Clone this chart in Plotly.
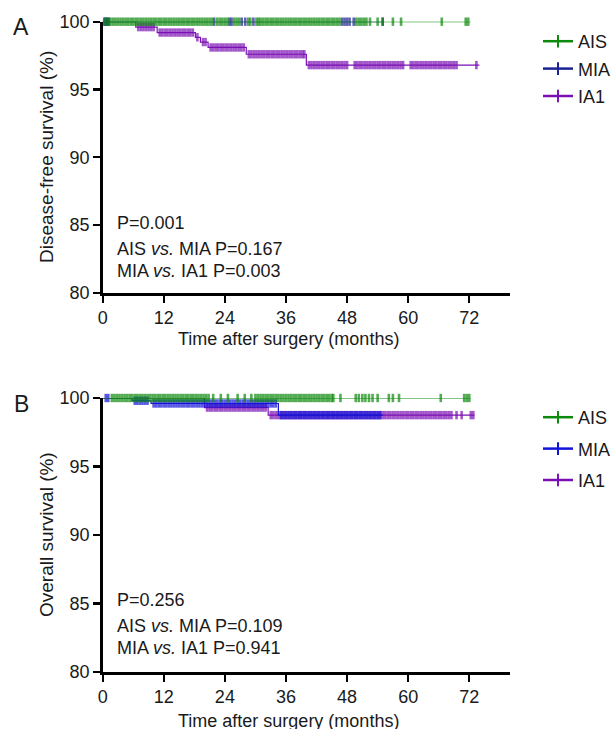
import plotly.graph_objects as go

# ---------------- Panel A: disease-free survival ----------------
dfs_ais_t = [0]
dfs_ais_s = [100]
dfs_ais_end = 72.3
dfs_ais_censor = [0.5, 1, 1.5, 2, 2.5, 3, 3.5, 4, 4.5, 5, 5.5, 6, 6.5, 7, 7.5, 8, 8.5, 9, 9.5, 10,
                  10.5, 11, 11.5, 12, 12.5, 13, 13.5, 14, 14.5, 15, 15.5, 16, 16.5, 17, 17.5, 18,
                  18.5, 19, 19.5, 20, 20.5, 21, 21.5, 22.5, 23, 23.5, 24, 24.5, 25.8, 26.3, 26.8,
                  28.6, 29, 30.2, 30.6, 31, 31.5, 32, 32.5, 33, 33.5, 34, 34.5, 35, 35.5, 36, 36.5,
                  37, 37.5, 38, 38.5, 39, 39.5, 40, 40.5, 41, 41.5, 42, 42.5, 43, 43.5, 44, 44.5,
                  45, 45.5, 46, 46.5, 49.8, 50.3, 50.8, 51.3, 51.8, 52.5, 54, 55, 57, 58.6, 66.6,
                  71.3, 71.8]

dfs_mia_t = [0]
dfs_mia_s = [100]
dfs_mia_end = 55.2
dfs_mia_censor = [0.3, 0.6, 0.9, 1.2, 21.9, 24.9, 25.3, 27.3, 28.0, 29.6, 47.0, 47.5, 48.0,
                  48.5, 49.3, 55.0]

dfs_ia1_t = [0, 6.5, 10.7, 18.2, 19.2, 20.7, 28.2, 40.0]
dfs_ia1_s = [100, 99.6, 99.2, 98.85, 98.5, 98.1, 97.6, 96.8]
dfs_ia1_end = 74.0
dfs_ia1_censor = [7, 7.5, 8, 8.5, 9, 9.5, 10, 11.2, 11.7, 12.2, 12.7, 13.2, 13.7, 14.2, 14.7,
                  15.2, 15.7, 16.2, 16.7, 17.2, 17.7, 18.6, 19.7, 20.2, 21.2, 21.7, 22.2, 22.7,
                  23.2, 23.7, 24.2, 24.7, 25.2, 25.7, 26.2, 26.7, 27.2, 27.7, 28.7, 29.2, 29.7,
                  30.2, 30.7, 31.2, 31.7, 32.2, 32.7, 33.2, 33.7, 34.2, 34.7, 35.2, 35.7, 36.2,
                  36.7, 37.2, 37.7, 38.2, 38.7, 39.2, 39.6, 40.5, 41, 41.5, 42, 42.5, 43, 43.5,
                  44, 44.5, 45, 45.5, 46, 46.5, 47, 47.5, 48, 49.5, 50, 50.5, 51, 51.5, 52, 52.5,
                  53, 53.5, 54, 54.5, 55, 55.5, 56, 56.5, 57, 57.5, 58, 58.5, 59, 60.5, 61, 61.5,
                  62, 62.5, 63, 63.5, 64, 64.5, 65, 65.5, 66, 66.5, 67, 67.5, 68, 68.5, 69,
                  69.5, 73.4]

# ---------------- Panel B: overall survival ----------------
os_ais_t = [0]
os_ais_s = [100]
os_ais_end = 72.3
os_ais_censor = [1.8, 2.3, 2.8, 3.3, 3.8, 4.3, 4.8, 5.3, 5.8, 6.3, 6.8, 7.3, 7.8, 8.3, 8.8, 9.3,
                 9.8, 10.3, 10.8, 11.3, 11.8, 12.3, 12.8, 13.3, 13.8, 14.3, 14.8, 15.3, 15.8,
                 16.3, 16.8, 17.3, 17.8, 18.3, 18.8, 19.3, 19.8, 20.3, 20.8, 21.7, 23.2, 24.6,
                 26.5, 27.9, 29.2, 30.0, 30.5, 31, 31.5, 32, 32.5, 33, 33.5, 34, 34.5, 35, 35.5,
                 36, 36.5, 37, 37.5, 38, 38.5, 39, 39.5, 40, 40.5, 41, 41.5, 42, 42.5, 43, 43.5,
                 44, 44.5, 45, 45.3, 46.7, 49.7, 50.3, 51.0, 51.6, 52.3, 53.0, 54.0, 56.2, 57.0,
                 58.2, 66.4, 71.0, 71.5, 72.0]

os_mia_t = [0, 5.8, 9.5, 34.5]
os_mia_s = [100, 99.8, 99.6, 98.75]
os_mia_end = 55.0
os_mia_censor = [0.6, 1.1, 6.3, 6.8, 7.3, 7.8, 8.3, 8.8, 10, 10.5, 11, 11.5, 12, 12.5, 13, 13.5,
                 14, 14.5, 15, 15.5, 16, 16.5, 17, 17.5, 18, 18.5, 19, 19.5, 20, 20.5, 21,
                 21.5, 22, 22.5, 23, 23.5, 24, 24.5, 25, 25.5, 26, 26.5, 27, 27.5, 28, 28.5, 29,
                 29.5, 30, 30.5, 31, 31.5, 32, 32.5, 33, 33.5, 34, 35, 35.5, 36, 36.5, 37, 37.5,
                 38, 38.5, 39, 39.5, 40, 40.5, 41, 41.5, 42, 42.5, 43, 43.5, 44, 44.5, 45, 45.5,
                 46, 46.5, 47, 47.5, 48, 48.5, 49, 49.5, 50, 50.5, 51, 51.5, 52, 52.5, 53,
                 53.5, 54, 54.5]

os_ia1_t = [0, 20.0, 32.5]
os_ia1_s = [100, 99.3, 98.75]
os_ia1_end = 73.0
os_ia1_censor = [20.5, 21, 21.5, 22, 22.5, 23, 23.5, 24, 24.5, 25, 25.5, 26, 26.5, 27, 27.5,
                 28, 28.5, 29, 29.5, 30, 30.5, 31, 31.5, 32, 33, 33.5, 34, 34.5, 35, 35.5, 36,
                 36.5, 37, 37.5, 38, 38.5, 39, 39.5, 40, 40.5, 41, 41.5, 42, 42.5, 43, 43.5,
                 44, 44.5, 45, 45.5, 46, 46.5, 47, 47.5, 48, 48.5, 49, 49.5, 50, 50.5, 51,
                 51.5, 52, 52.5, 53, 53.5, 54, 54.5, 55, 55.5, 56, 56.5, 57, 57.5, 58, 58.5, 59,
                 59.5, 60, 60.5, 61, 61.5, 62, 62.5, 63, 63.5, 64, 64.5, 65, 65.5, 66, 66.5,
                 67, 67.5, 68, 68.5, 69.5, 70.5, 72.3, 72.8]

groups = ["AIS", "MIA", "IA1"]
x_ticks = [0, 12, 24, 36, 48, 60, 72]
y_ticks = [80, 85, 90, 95, 100]

GREEN = "#0b8a0b"
BLUE_A = "#1c2290"
BLUE_B = "#1414d8"
PURPLE = "#7a10b4"
FONT = "Liberation Sans, Arial, Helvetica, sans-serif"

W, H = 614, 729


def km_trace(t, s, censor, end, color, xa, ya):
    pts = [(tt, ss, 0) for tt, ss in zip(t, s)]
    for c in censor:
        lvl = s[0]
        for tt, ss in zip(t, s):
            if tt <= c:
                lvl = ss
        pts.append((c, lvl, 1))
    pts.append((end, s[-1], 0))
    pts.sort(key=lambda p: (p[0], p[2]))
    return go.Scatter(
        x=[p[0] for p in pts], y=[p[1] for p in pts],
        mode="lines+markers", line=dict(color=color, width=1.2, shape="hv"),
        marker=dict(symbol="line-ns", size=[6 if p[2] else 0 for p in pts],
                    line=dict(color=color, width=2.6), color=color),
        xaxis=xa, yaxis=ya, showlegend=False, cliponaxis=False, hoverinfo="skip")


def legend_proxy(name, color, leg):
    return go.Scatter(x=[None], y=[None], name=name, mode="lines+markers",
                      line=dict(color=color, width=2.5),
                      marker=dict(symbol="line-ns", size=9, line=dict(color=color, width=2)),
                      legend=leg, legendgroup=leg + name, xaxis="x", yaxis="y")


fig = go.Figure()
# Panel A (draw IA1 first, AIS last on top)
fig.add_trace(km_trace(dfs_ia1_t, dfs_ia1_s, dfs_ia1_censor, dfs_ia1_end, PURPLE, "x", "y"))
fig.add_trace(km_trace(dfs_mia_t, dfs_mia_s, dfs_mia_censor, dfs_mia_end, BLUE_A, "x", "y"))
fig.add_trace(km_trace(dfs_ais_t, dfs_ais_s, dfs_ais_censor, dfs_ais_end, GREEN, "x", "y"))
# Panel B
fig.add_trace(km_trace(os_ia1_t, os_ia1_s, os_ia1_censor, os_ia1_end, PURPLE, "x2", "y2"))
fig.add_trace(km_trace(os_mia_t, os_mia_s, os_mia_censor, os_mia_end, BLUE_B, "x2", "y2"))
fig.add_trace(km_trace(os_ais_t, os_ais_s, os_ais_censor, os_ais_end, GREEN, "x2", "y2"))

for name, col in zip(groups, [GREEN, BLUE_A, PURPLE]):
    fig.add_trace(legend_proxy(name, col, "legend"))
for name, col in zip(groups, [GREEN, BLUE_B, PURPLE]):
    fig.add_trace(legend_proxy(name, col, "legend2"))

x_dom = [102.7 / W, 510 / W]
yA = [1 - 293 / H, 1 - 21.7 / H]
yB = [1 - 672 / H, 1 - 398 / H]

axis_common = dict(showline=True, linecolor="black", linewidth=2.6, ticks="outside",
                   ticklen=7, tickwidth=2.2, tickcolor="black", showgrid=False,
                   zeroline=False, tickfont=dict(family=FONT, size=18, color="#1a1a1a"),
                   automargin=False, fixedrange=True)

fig.update_layout(
    width=W, height=H, margin=dict(l=0, r=0, t=0, b=0, autoexpand=False),
    paper_bgcolor="white", plot_bgcolor="white",
    font=dict(family=FONT, size=18, color="#1a1a1a"),
    xaxis=dict(domain=x_dom, anchor="y", range=[0, 80], tickvals=x_ticks, **axis_common),
    yaxis=dict(domain=yA, anchor="x", range=[80, 100], tickvals=y_ticks, **axis_common),
    xaxis2=dict(domain=x_dom, anchor="y2", range=[0, 80], tickvals=x_ticks, **axis_common),
    yaxis2=dict(domain=yB, anchor="x2", range=[80, 100], tickvals=y_ticks, **axis_common),
    legend=dict(x=538 / W, y=1 - 23 / H, xanchor="left", yanchor="top",
                bgcolor="rgba(0,0,0,0)", itemwidth=30, font=dict(size=18),
                tracegroupgap=1),
    legend2=dict(x=538 / W, y=1 - 399 / H, xanchor="left", yanchor="top",
                 bgcolor="rgba(0,0,0,0)", itemwidth=30, font=dict(size=18),
                 tracegroupgap=5),
)


def ann(text, x, y, size=18, xanchor="left", angle=0):
    fig.add_annotation(text=text, x=x / W, y=1 - y / H, xref="paper", yref="paper",
                       showarrow=False, xanchor=xanchor, yanchor="middle",
                       textangle=angle, font=dict(family=FONT, size=size, color="#1a1a1a"))


# Panel letters
ann("A", 21, 27, size=23, xanchor="center")
ann("B", 21, 404, size=23, xanchor="center")

# Axis titles
ann("Disease-free survival (%)", 46, 157, size=19, xanchor="center", angle=-90)
ann("Overall survival (%)", 46, 535, size=19, xanchor="center", angle=-90)
ann("Time after surgery (months)", 288, 339, size=18, xanchor="center")
ann("Time after surgery (months)", 288, 721, size=18, xanchor="center")

# P-value texts
ann("P=0.001", 115, 223)
ann("AIS <i>vs.</i> MIA P=0.167", 115, 249)
ann("MIA <i>vs.</i> IA1 P=0.003", 115, 271)
ann("P=0.256", 115, 600)
ann("AIS <i>vs.</i> MIA P=0.109", 115, 626)
ann("MIA <i>vs.</i> IA1 P=0.941", 115, 648)

fig.write_html(
    "out.html",
    config={"displayModeBar": False, "staticPlot": True},
    post_script="document.body.style.margin='0px';"
                "document.documentElement.style.overflow='hidden';"
                "document.body.style.overflow='hidden';",
)
